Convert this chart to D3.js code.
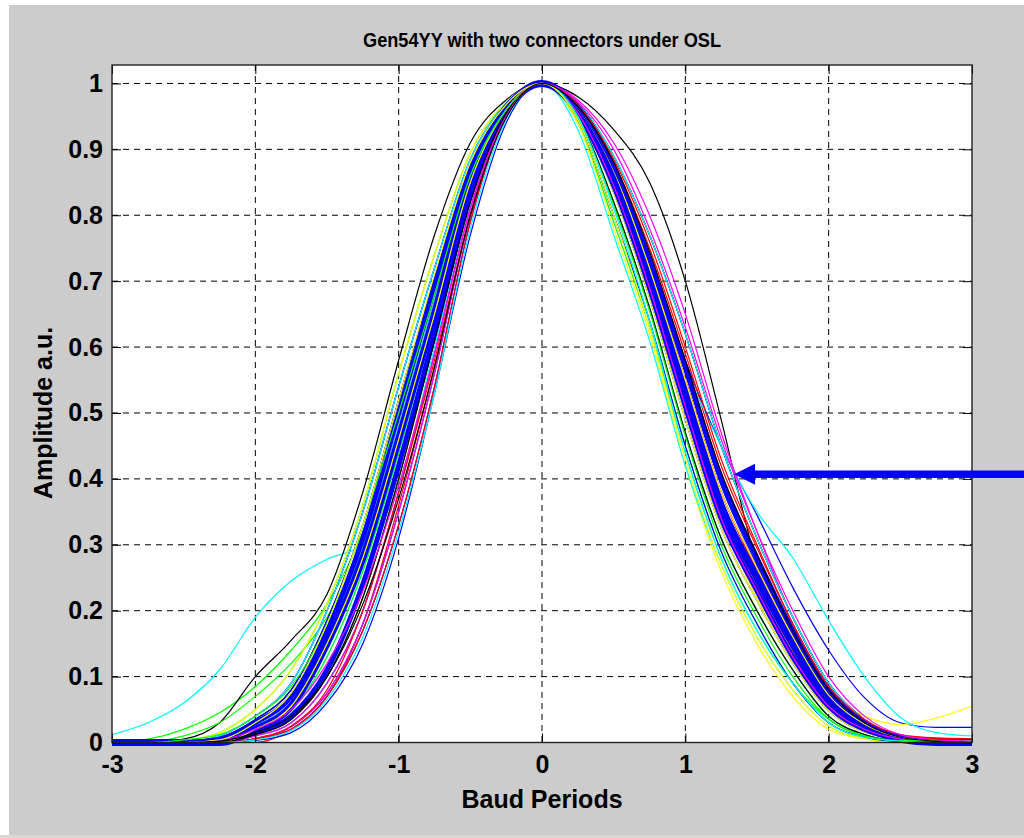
<!DOCTYPE html>
<html>
<head>
<meta charset="utf-8">
<title>Gen54YY with two connectors under OSL</title>
<script src="https://d3js.org/d3.v7.min.js"></script>
<style>
    html, body { margin: 0; padding: 0; background: #ffffff; overflow: hidden; }
    #chart { width: 1024px; height: 838px; }
    text { font-family: "Liberation Sans", Arial, Helvetica, sans-serif; fill: #000; }
</style>
</head>
<body>
<div id="chart"></div>
<script>
// sample positions (baud periods) shared by every trace
const baudPeriods = [-3, -2.75, -2.5, -2.25, -2, -1.75, -1.5, -1.25, -1, -0.75, -0.5, -0.25, 0,
    0.25, 0.5, 0.75, 1, 1.25, 1.5, 1.75, 2, 2.25, 2.5, 2.75, 3];

const xTicks = [-3, -2, -1, 0, 1, 2, 3];
const yTicks = [0, 0.1, 0.2, 0.3, 0.4, 0.5, 0.6, 0.7, 0.8, 0.9, 1];
const yLimit = [0, 1.028];

const pulseTraces = [
    [0,0,0,0,0.01,0.03,0.09,0.2,0.38,0.59,0.81,0.95,1,0.965,0.875,0.74,0.58,0.45,0.345,0.235,0.14,0.068,0.03,0.023,0.023],
    [0,0.005,0.02,0.045,0.085,0.14,0.21,0.32,0.49,0.68,0.86,0.965,1,0.95,0.82,0.66,0.47,0.31,0.2,0.11,0.04,0.012,0.002,0,0],
    [0,0,0,0,0,0.02,0.07,0.18,0.36,0.57,0.8,0.95,1,0.965,0.875,0.73,0.57,0.4,0.28,0.17,0.08,0.03,0.008,0.005,0.005],
    [0.012,0.03,0.06,0.11,0.19,0.245,0.278,0.3,0.39,0.6,0.82,0.955,1,0.96,0.86,0.71,0.53,0.36,0.25,0.15,0.065,0.025,0.005,0,0],
    [0,0,0,0,0.015,0.04,0.11,0.24,0.42,0.62,0.83,0.955,1,0.97,0.89,0.77,0.62,0.45,0.31,0.19,0.09,0.035,0.01,0.003,0],
    [0.004,0.004,0.004,0.006,0.03,0.07,0.17,0.31,0.5,0.69,0.87,0.965,1,0.955,0.845,0.69,0.51,0.34,0.22,0.13,0.07,0.04,0.027,0.037,0.055],
    [0,0,0.005,0.03,0.1,0.155,0.225,0.38,0.58,0.77,0.91,0.975,1,0.98,0.93,0.85,0.7,0.49,0.27,0.14,0.06,0.02,0.005,0,0],
    [0,0,0,0,0.005,0.02,0.07,0.17,0.33,0.54,0.79,0.95,1,0.955,0.845,0.69,0.51,0.34,0.23,0.13,0.055,0.02,0.005,0,0],
    [0,0,0.01,0.03,0.07,0.12,0.19,0.3,0.47,0.66,0.85,0.96,1,0.94,0.79,0.63,0.44,0.28,0.17,0.09,0.035,0.01,0.004,0.003,0.003],
    [0,0,0,0.004,0.025,0.062,0.16,0.295,0.48,0.67,0.86,0.962,1,0.967,0.88,0.75,0.59,0.42,0.295,0.18,0.085,0.032,0.01,0.004,0.004],
    [0,0,0,0.002,0.018,0.048,0.13,0.26,0.44,0.64,0.84,0.96,1,0.96,0.87,0.73,0.57,0.45,0.35,0.28,0.185,0.1,0.038,0.015,0.01],
    [0,0,0,0.01,0.04,0.09,0.2,0.35,0.54,0.72,0.885,0.97,1,0.965,0.875,0.73,0.57,0.4,0.28,0.17,0.08,0.03,0.008,0,0],
    [0,0,0,0,0.02,0.055,0.15,0.28,0.46,0.65,0.85,0.96,1,0.94,0.78,0.62,0.42,0.26,0.15,0.07,0.02,0.005,0,0,0],
    [0,0,0.002,0.008,0.035,0.08,0.185,0.33,0.52,0.705,0.878,0.968,1,0.962,0.868,0.72,0.55,0.38,0.265,0.16,0.072,0.028,0.008,0.003,0.002],
    [0,0,0,0,0.006,0.024,0.075,0.18,0.35,0.56,0.8,0.95,1,0.952,0.835,0.675,0.49,0.325,0.215,0.12,0.048,0.016,0.004,0,0],
    [0,0,0.003,0.015,0.05,0.11,0.21,0.36,0.56,0.74,0.895,0.972,1,0.958,0.855,0.7,0.52,0.35,0.24,0.14,0.06,0.022,0.006,0.002,0],
    [0,0,0,0,0.012,0.035,0.1,0.22,0.4,0.61,0.82,0.955,1,0.96,0.86,0.72,0.55,0.38,0.26,0.16,0.07,0.03,0.012,0.007,0.006],
    [0,0,0,0,0.01,0.03,0.09,0.2,0.38,0.59,0.81,0.95,1,0.93,0.77,0.61,0.42,0.27,0.16,0.08,0.025,0.006,0,0,0],
    [0,0,0,0,0.02,0.055,0.15,0.28,0.46,0.65,0.85,0.96,1,0.975,0.91,0.8,0.65,0.47,0.32,0.19,0.09,0.035,0.01,0.003,0],
    [0,0,0,0,0.015,0.04,0.11,0.24,0.42,0.62,0.83,0.955,1,0.95,0.82,0.66,0.47,0.31,0.2,0.11,0.04,0.012,0.002,0,0],
    [0,0,0,0.005,0.03,0.07,0.17,0.31,0.5,0.69,0.87,0.965,1,0.97,0.89,0.77,0.62,0.45,0.31,0.19,0.09,0.035,0.01,0.003,0],
    [0,0,0,0.01,0.04,0.09,0.2,0.35,0.54,0.72,0.885,0.97,1,0.96,0.86,0.71,0.53,0.36,0.25,0.15,0.065,0.025,0.005,0,0],
    [0,0,0,0.002,0.018,0.048,0.13,0.26,0.44,0.64,0.84,0.96,1,0.945,0.8,0.64,0.45,0.29,0.18,0.09,0.03,0.008,0.001,0.002,0.003],
    [0,0,0,0.005,0.03,0.07,0.17,0.31,0.5,0.69,0.87,0.965,1,0.955,0.845,0.69,0.51,0.34,0.23,0.13,0.055,0.02,0.008,0.006,0.005],
    [0,0,0,0.004,0.025,0.062,0.16,0.295,0.48,0.67,0.86,0.962,1,0.95,0.82,0.66,0.47,0.31,0.2,0.11,0.04,0.012,0.002,0,0],
    [0,0,0,0,0.006,0.024,0.075,0.18,0.35,0.56,0.8,0.95,1,0.962,0.868,0.72,0.55,0.38,0.265,0.16,0.072,0.028,0.008,0.003,0.002],
    [0,0,0.003,0.015,0.05,0.11,0.21,0.36,0.56,0.74,0.895,0.972,1,0.952,0.835,0.675,0.49,0.325,0.215,0.12,0.048,0.016,0.004,0,0],
    [0,0,0,0,0.015,0.04,0.11,0.24,0.42,0.62,0.83,0.955,1,0.965,0.875,0.73,0.57,0.4,0.28,0.17,0.08,0.03,0.008,0.002,0.001],
    [0,0,0.002,0.008,0.035,0.08,0.185,0.33,0.52,0.705,0.878,0.968,1,0.945,0.8,0.64,0.45,0.29,0.18,0.09,0.03,0.008,0.001,0,0],
    [0,0,0,0,0.012,0.035,0.1,0.22,0.4,0.61,0.82,0.955,1,0.96,0.86,0.71,0.53,0.36,0.25,0.15,0.065,0.025,0.005,0.002,0.002],
    [0,0,0,0,0.005,0.02,0.07,0.17,0.33,0.54,0.79,0.95,1,0.958,0.855,0.7,0.52,0.35,0.24,0.14,0.06,0.022,0.006,0.004,0.004],
    [0,0,0,0.01,0.04,0.09,0.2,0.35,0.54,0.72,0.885,0.97,1,0.97,0.89,0.77,0.62,0.45,0.31,0.19,0.09,0.035,0.01,0.003,0],
    [0,0,0,0,0.01,0.03,0.09,0.2,0.38,0.59,0.81,0.95,1,0.955,0.845,0.69,0.51,0.34,0.23,0.13,0.055,0.02,0.005,0,0],
    [0,0,0,0,0.02,0.055,0.15,0.28,0.46,0.65,0.85,0.96,1,0.962,0.868,0.72,0.55,0.38,0.265,0.16,0.072,0.028,0.008,0.003,0.002],
    [0,0,0,0,0.012,0.035,0.1,0.22,0.4,0.61,0.82,0.955,1,0.95,0.82,0.66,0.47,0.31,0.2,0.11,0.04,0.012,0.002,0,0],
    [0,0,0,0,0.003,0.015,0.06,0.15,0.31,0.53,0.77,0.94,1,0.962,0.87,0.73,0.56,0.39,0.27,0.165,0.075,0.03,0.01,0.004,0.003],
    [0,0,0.004,0.012,0.04,0.085,0.18,0.33,0.5,0.68,0.86,0.96,1,0.948,0.815,0.655,0.465,0.3,0.19,0.1,0.036,0.01,0.003,0.003,0.003],
    [0,0,0,0,0.006,0.025,0.08,0.2,0.38,0.58,0.8,0.95,1,0.968,0.885,0.76,0.6,0.43,0.3,0.18,0.085,0.035,0.012,0.006,0.006],
    [0,0,0,0,0.004,0.018,0.065,0.16,0.32,0.53,0.78,0.945,1,0.95,0.81,0.64,0.44,0.28,0.17,0.09,0.03,0.008,0.002,0,0],
    [0,0,0,0.003,0.02,0.05,0.12,0.23,0.39,0.59,0.81,0.95,1,0.972,0.9,0.78,0.63,0.46,0.32,0.2,0.1,0.04,0.012,0.004,0.002],
    [0,0,0,0.004,0.03,0.075,0.18,0.33,0.52,0.71,0.88,0.968,1,0.945,0.8,0.63,0.43,0.27,0.16,0.08,0.025,0.006,0,0,0],
    [0,0,0,0.002,0.015,0.04,0.1,0.21,0.37,0.57,0.8,0.948,1,0.965,0.88,0.745,0.58,0.41,0.285,0.17,0.08,0.03,0.008,0.002,0]
];

// the heavy blue bundle in the middle of the spread
const bundleTraces = [
    [0,0,0,0,0.015,0.04,0.11,0.24,0.42,0.62,0.83,0.955,1,0.955,0.845,0.69,0.51,0.34,0.23,0.13,0.055,0.02,0.005,0,0],
    [0,0,0,0,0.02,0.055,0.15,0.28,0.46,0.65,0.85,0.96,1,0.96,0.86,0.71,0.53,0.36,0.25,0.15,0.065,0.025,0.005,0,0],
    [0,0,0,0.005,0.03,0.07,0.17,0.31,0.5,0.69,0.87,0.965,1,0.965,0.875,0.73,0.57,0.4,0.28,0.17,0.08,0.03,0.008,0,0]
];

// annotation arrow points at this (x, amplitude)
const arrowTarget = [1.34, 0.407];

class PulseOverlay {
    constructor(parentElement, traces, bundle) {
        this.parentElement = parentElement;
        this.traces = traces;
        this.bundle = bundle;
        // matlab 'bgrcmyk' cycle
        this.colorOrder = ["#0000ff", "#00ff00", "#ff0000", "#00ffff", "#ff00ff", "#ffff00", "#000000"];
        this.initVis();
    }

    initVis() {
        let vis = this;

        vis.fullWidth = 1024;
        vis.fullHeight = 838;
        vis.margin = {top: 65, right: 52, bottom: 95.5, left: 112};
        vis.width = vis.fullWidth - vis.margin.left - vis.margin.right;
        vis.height = vis.fullHeight - vis.margin.top - vis.margin.bottom;

        vis.root = d3.select("#" + vis.parentElement).append("svg")
            .attr("width", vis.fullWidth)
            .attr("height", vis.fullHeight);

        // figure window (grey panel)
        vis.root.append("rect")
            .attr("x", 9).attr("y", 5)
            .attr("width", vis.fullWidth - 9).attr("height", 830)
            .attr("fill", "#cccccc");
        vis.root.append("rect")
            .attr("x", 0).attr("y", 835)
            .attr("width", vis.fullWidth).attr("height", 3)
            .attr("fill", "#dcd8d0");

        vis.svg = vis.root.append("g")
            .attr("transform", `translate(${vis.margin.left}, ${vis.margin.top})`);

        vis.x = d3.scaleLinear().domain([-3, 3]).range([0, vis.width]);
        vis.y = d3.scaleLinear().domain(yLimit).range([vis.height, 0]);

        vis.svg.append("rect")
            .attr("width", vis.width)
            .attr("height", vis.height)
            .attr("fill", "#ffffff");

        vis.svg.append("defs").append("clipPath")
            .attr("id", "plot-clip")
            .append("rect")
            .attr("x", -1).attr("y", -1)
            .attr("width", vis.width + 2)
            .attr("height", vis.height + 5);

        vis.drawGrid();
        vis.drawTraces();
        vis.drawAxes();
        vis.drawLabels();
        vis.drawArrow();
    }

    drawGrid() {
        let vis = this;
        let grid = vis.svg.append("g").attr("class", "grid");

        grid.selectAll(".vgrid")
            .data(xTicks.filter(d => d > -3 && d < 3))
            .enter().append("line")
            .attr("x1", d => vis.x(d)).attr("x2", d => vis.x(d))
            .attr("y1", 0).attr("y2", vis.height)
            .attr("stroke", "#000").attr("stroke-width", 1)
            .attr("stroke-dasharray", "6,5");

        grid.selectAll(".hgrid")
            .data(yTicks.filter(d => d > 0))
            .enter().append("line")
            .attr("x1", 0).attr("x2", vis.width)
            .attr("y1", d => vis.y(d)).attr("y2", d => vis.y(d))
            .attr("stroke", "#000").attr("stroke-width", 1)
            .attr("stroke-dasharray", "6,5");
    }

    drawTraces() {
        let vis = this;

        vis.line = d3.line()
            .x((d, i) => vis.x(baudPeriods[i]))
            .y(d => vis.y(d))
            .curve(d3.curveMonotoneX);

        let plot = vis.svg.append("g").attr("clip-path", "url(#plot-clip)");

        let split = 32;

        plot.selectAll(".trace-under")
            .data(vis.traces.slice(0, split))
            .enter().append("path")
            .attr("d", d => vis.line(d))
            .attr("fill", "none")
            .attr("stroke", (d, i) => vis.colorOrder[i % 7])
            .attr("stroke-width", 1.2);

        plot.selectAll(".bundle")
            .data(vis.bundle)
            .enter().append("path")
            .attr("d", d => vis.line(d))
            .attr("fill", "none")
            .attr("stroke", "#0000ff")
            .attr("stroke-width", (d, i) => i === 1 ? 7 : 5)
            .attr("stroke-linejoin", "round");

        plot.selectAll(".trace-over")
            .data(vis.traces.slice(split))
            .enter().append("path")
            .attr("d", d => vis.line(d))
            .attr("fill", "none")
            .attr("stroke", (d, i) => vis.colorOrder[(i + split) % 7])
            .attr("stroke-width", 1.2);
    }

    drawAxes() {
        let vis = this;
        let tick = 9;
        let fmt = d => String(d);

        let styleAxis = g => {
            g.select(".domain").remove();
            g.selectAll(".tick line").attr("stroke", "#000").attr("stroke-width", 1);
            g.selectAll(".tick text")
                .style("font-size", "25px")
                .style("font-weight", "bold")
                .attr("fill", "#000");
        };

        vis.svg.append("g")
            .attr("transform", `translate(0, ${vis.height})`)
            .call(d3.axisBottom(vis.x).tickValues(xTicks).tickSize(-tick).tickPadding(13).tickFormat(fmt))
            .call(styleAxis);

        vis.svg.append("g")
            .call(d3.axisTop(vis.x).tickValues(xTicks).tickSize(-tick).tickFormat(""))
            .call(styleAxis);

        vis.svg.append("g")
            .call(d3.axisLeft(vis.y).tickValues(yTicks).tickSize(-tick).tickPadding(9).tickFormat(fmt))
            .call(styleAxis);

        vis.svg.append("g")
            .attr("transform", `translate(${vis.width}, 0)`)
            .call(d3.axisRight(vis.y).tickValues(yTicks).tickSize(-tick).tickFormat(""))
            .call(styleAxis);

        vis.svg.append("rect")
            .attr("width", vis.width)
            .attr("height", vis.height)
            .attr("fill", "none")
            .attr("stroke", "#222")
            .attr("stroke-width", 1.4);
    }

    drawLabels() {
        let vis = this;

        vis.root.append("text")
            .attr("x", vis.margin.left + vis.width / 2)
            .attr("y", 47)
            .attr("text-anchor", "middle")
            .attr("textLength", 358)
            .attr("lengthAdjust", "spacingAndGlyphs")
            .style("font-size", "21px")
            .style("font-weight", "bold")
            .text("Gen54YY with two connectors under OSL");

        vis.root.append("text")
            .attr("x", vis.margin.left + vis.width / 2)
            .attr("y", 808)
            .attr("text-anchor", "middle")
            .style("font-size", "25px")
            .style("font-weight", "bold")
            .text("Baud Periods");

        vis.root.append("text")
            .attr("transform", `translate(52, ${vis.margin.top + vis.y(0.5)}) rotate(-90)`)
            .attr("text-anchor", "middle")
            .style("font-size", "25px")
            .style("font-weight", "bold")
            .text("Amplitude a.u.");
    }

    drawArrow() {
        let vis = this;
        let tipX = vis.margin.left + vis.x(arrowTarget[0]);
        let tipY = vis.margin.top + vis.y(arrowTarget[1]);
        let headLen = 21, headHalf = 10.5;

        vis.root.append("line")
            .attr("x1", tipX + headLen - 1).attr("x2", vis.fullWidth + 5)
            .attr("y1", tipY).attr("y2", tipY)
            .attr("stroke", "#0000ff")
            .attr("stroke-width", 7.5);

        vis.root.append("path")
            .attr("d", `M${tipX},${tipY} L${tipX + headLen},${tipY - headHalf} L${tipX + headLen},${tipY + headHalf} Z`)
            .attr("fill", "#0000ff");
    }
}

new PulseOverlay("chart", pulseTraces, bundleTraces);
</script>
</body>
</html>
